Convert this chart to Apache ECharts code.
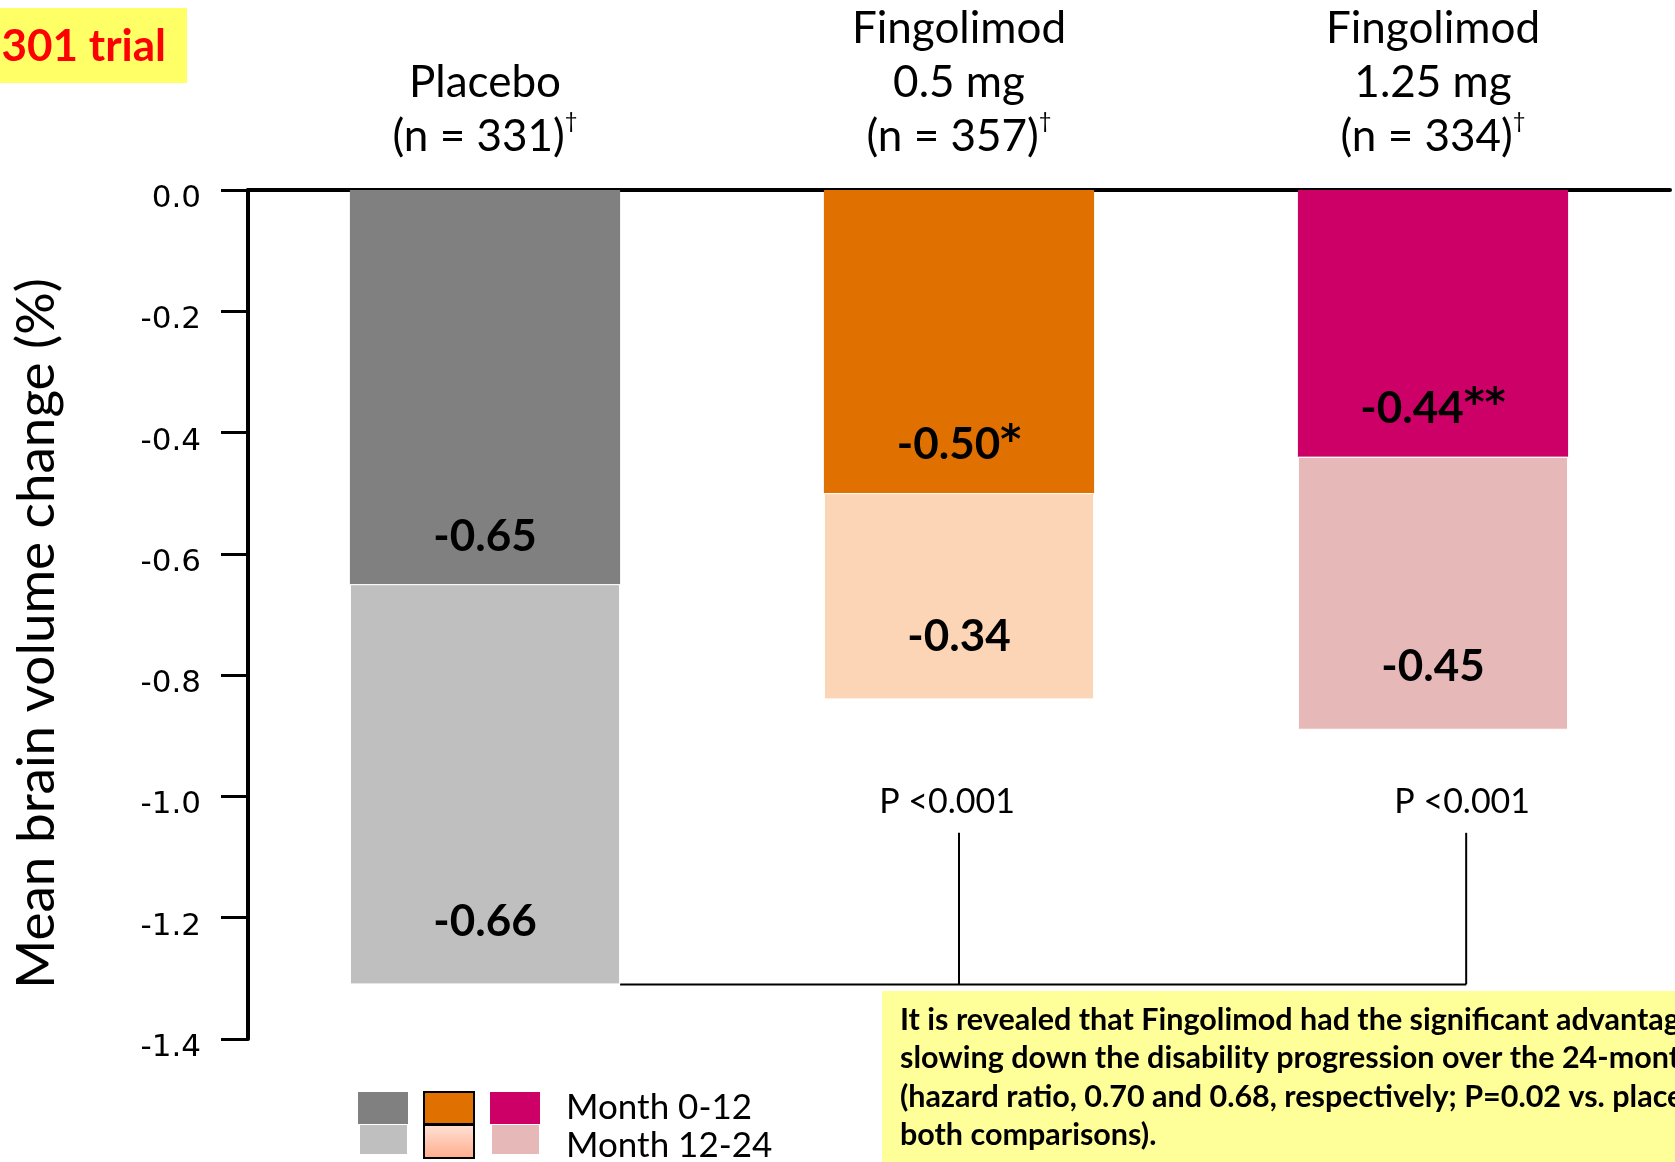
<!DOCTYPE html>
<html>
<head>
<meta charset="utf-8">
<title>Mean brain volume change - 301 trial</title>
<script src="https://cdn.jsdelivr.net/npm/echarts@6/dist/echarts.min.js"></script>
<style>
html,body{margin:0;padding:0;background:#fff;}
#main{width:1675px;height:1162px;}
</style>
</head>
<body>
<div id="main"></div>
<script>
// data
var groups = ['Placebo', 'Fingolimod 0.5 mg', 'Fingolimod 1.25 mg'];
var groupLabels = ['Placebo\n(n = 331){sup|†}', 'Fingolimod\n0.5 mg\n(n = 357){sup|†}', 'Fingolimod\n1.25 mg\n(n = 334){sup|†}'];
var month0to12 = [-0.65, -0.50, -0.44];
var month12to24 = [-0.66, -0.34, -0.45];
var labels0to12 = ['-0.65', '-0.50{ast|*}', '-0.44{ast|**}'];
var labels12to24 = ['-0.66', '-0.34', '-0.45'];
var darkColors = ['#808080', '#e07000', '#cc0066'];
var lightColors = ['#bfbfbf', '#fbd5b5', '#e6b8b7'];
var yMin = -1.4, yMax = 0, yStep = 0.2;
var pTexts = ['P <0.001', 'P <0.001'];
var bracketTop = -1.06, bracketLabelAt = -1.01;
var noteLines = [
  'It is revealed that Fingolimod had the significant advantage in',
  'slowing down the disability progression over the 24-month period',
  '(hazard ratio, 0.70 and 0.68, respectively; P=0.02 vs. placebo for',
  'both comparisons).'
];
var legendNames = ['Month 0-12', 'Month 12-24'];

var txtFont = 'Lato, "Noto Sans", sans-serif';

var chart = echarts.init(document.getElementById('main'));

var barLabel = {
  show: true, position: 'insideBottom',
  fontFamily: txtFont, fontWeight: 'bold', fontSize: 44, color: '#000',
  rich: {
    ast: { fontFamily: 'DejaVu Sans', fontWeight: 'bold', fontSize: 40, color: '#000', padding: [0, 0, 6, 0] }
  }
};

var option = {
  backgroundColor: '#fff',
  animation: false,
  grid: { left: 248, right: 5, top: 190, bottom: 123, outerBoundsMode: 'none' },
  xAxis: {
    type: 'category',
    position: 'top',
    data: groups,
    axisLine: { show: true, lineStyle: { color: '#000', width: 4 } },
    axisTick: { show: false },
    axisLabel: {
      margin: 26,
      interval: 0,
      formatter: function (v, i) { return groupLabels[i]; },
      color: '#000',
      fontFamily: txtFont,
      fontSize: 44,
      lineHeight: 54,
      rich: {
        sup: { fontSize: 22, fontFamily: txtFont, color: '#000', verticalAlign: 'top', lineHeight: 54, padding: [0, 0, 18, 0] }
      }
    }
  },
  yAxis: {
    type: 'value',
    min: yMin, max: yMax, interval: yStep,
    name: 'Mean brain volume change (%)',
    nameLocation: 'middle',
    nameGap: 185,
    nameTextStyle: { fontFamily: txtFont, fontSize: 53, color: '#000', padding: [0, 38, 0, 0] },
    axisLine: { show: true, lineStyle: { color: '#000', width: 4 } },
    axisTick: { show: true, length: 27, lineStyle: { color: '#000', width: 3 } },
    splitLine: { show: false },
    axisLabel: {
      margin: 47,
      verticalAlign: 'top',
      lineHeight: 18,
      color: '#000',
      fontFamily: 'DejaVu Sans',
      fontSize: 31,
      formatter: function (v) { return v.toFixed(1); }
    }
  },
  series: [
    {
      name: legendNames[0],
      type: 'bar',
      stack: 'total',
      barWidth: '57%',
      data: month0to12.map(function (v, i) { return { value: v, itemStyle: { color: darkColors[i] } }; }),
      label: echarts.util.extend({
        distance: 25,
        formatter: function (p) { return labels0to12[p.dataIndex]; }
      }, barLabel)
    },
    {
      name: legendNames[1],
      type: 'bar',
      stack: 'total',
      barWidth: '57%',
      data: month12to24.map(function (v, i) { return { value: v, itemStyle: { color: lightColors[i], borderColor: '#fff', borderWidth: 1 } }; }),
      label: echarts.util.extend({
        distance: 41,
        formatter: function (p) { return labels12to24[p.dataIndex]; }
      }, barLabel)
    }
  ]
};

chart.setOption(option);

// annotations placed through the chart's own scales
function px(cat, val) { return chart.convertToPixel({ gridIndex: 0 }, [cat, val]); }
var band = px(1, 0)[0] - px(0, 0)[0];
var totalPlacebo = month0to12[0] + month12to24[0];
var yBottom = px(0, totalPlacebo)[1];
var yTop = px(0, bracketTop)[1];
var yP = px(0, bracketLabelAt)[1];
var x0 = px(0, 0)[0] + band * 0.57 / 2;
var x1 = px(1, 0)[0];
var x2 = px(2, 0)[0] + band * 0.07;

var graphics = [
  // "301 trial" tag
  { type: 'rect', shape: { x: 0, y: 8, width: 187, height: 75 }, style: { fill: '#ffff66' } },
  { type: 'text', x: 166, y: 47, style: { text: '301 trial', fill: '#ff0000', font: 'bold 44px ' + txtFont, textAlign: 'right', textVerticalAlign: 'middle' } },
  // bracket
  { type: 'line', shape: { x1: x0, y1: yBottom, x2: x2, y2: yBottom }, style: { stroke: '#000', lineWidth: 2 } },
  { type: 'line', shape: { x1: x1, y1: yTop, x2: x1, y2: yBottom }, style: { stroke: '#000', lineWidth: 2 } },
  { type: 'line', shape: { x1: x2, y1: yTop, x2: x2, y2: yBottom }, style: { stroke: '#000', lineWidth: 2 } },
  { type: 'text', x: x1 - 12, y: yP, style: { text: pTexts[0], fill: '#000', font: '34px ' + txtFont, textAlign: 'center', textVerticalAlign: 'middle' } },
  { type: 'text', x: x2 - 4, y: yP, style: { text: pTexts[1], fill: '#000', font: '34px ' + txtFont, textAlign: 'center', textVerticalAlign: 'middle' } },
  // note box
  { type: 'rect', shape: { x: 882, y: 991, width: 800, height: 180 }, style: { fill: '#ffff99' } }
];
noteLines.forEach(function (t, i) {
  graphics.push({ type: 'text', x: 900, y: 1020 + i * 38.5, style: { text: t, fill: '#000', font: 'bold 30.5px ' + txtFont, textVerticalAlign: 'middle' } });
});

// legend: three swatches per row
var swX = [358, 424, 490];
for (var i = 0; i < 3; i++) {
  var bordered = i === 1;
  graphics.push({ type: 'rect', shape: { x: swX[i], y: 1092, width: 50, height: 32 }, style: { fill: darkColors[i], stroke: bordered ? '#000' : null, lineWidth: bordered ? 2 : 0 } });
  var lightFill = bordered ? new echarts.graphic.LinearGradient(0, 0, 0, 1, [{ offset: 0, color: '#ffe3d8' }, { offset: 1, color: '#ffab8a' }]) : lightColors[i];
  graphics.push({ type: 'rect', shape: { x: swX[i] + (bordered ? 0 : 2), y: 1125, width: bordered ? 50 : 47, height: bordered ? 33 : 29 }, style: { fill: lightFill, stroke: bordered ? '#000' : null, lineWidth: bordered ? 2 : 0 } });
}
graphics.push({ type: 'text', x: 566, y: 1108, style: { text: legendNames[0], fill: '#000', font: '35px ' + txtFont, textVerticalAlign: 'middle' } });
graphics.push({ type: 'text', x: 566, y: 1146, style: { text: legendNames[1], fill: '#000', font: '35px ' + txtFont, textVerticalAlign: 'middle' } });

chart.setOption({ graphic: graphics });
</script>
</body>
</html>
